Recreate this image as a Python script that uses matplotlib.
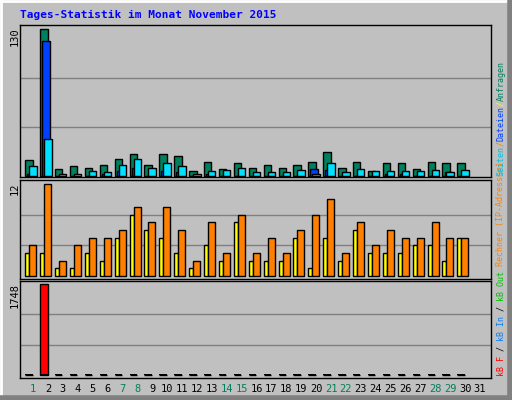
import numpy as np
import matplotlib; matplotlib.use('Agg')
import matplotlib.pyplot as plt
from matplotlib.lines import Line2D

days = np.arange(1, 32)
weekend = [1, 7, 8, 14, 15, 21, 22, 28, 29]

# top panel: Anfragen / Dateien / Seiten (day 1..30)
hits  = [14,130,6,9,7,10,15,19,10,19,18,4,12,6,11,7,10,7,10,12,21,7,12,4,11,11,6,12,11,11]
files = [2,119,0,0,0,2,4,7,0,4,3,0,2,0,0,0,0,0,0,6,5,0,0,0,2,2,0,0,3,0]
pages = [9,33,2,2,4,3,10,15,7,11,9,2,4,5,7,3,3,3,5,2,11,3,6,4,4,4,4,5,3,5]
# middle panel: Besuche (yellow) / Rechner (orange)
visits = [3,3,1,1,3,2,5,8,6,5,3,1,4,2,7,2,2,2,5,1,5,2,6,3,3,3,4,4,2,5]
sites  = [4,12,2,4,5,5,6,9,7,9,6,2,7,3,8,3,5,3,6,8,10,3,7,4,6,5,5,7,5,5]
# bottom panel: kB F (red), kB In (small dashes)
kbf  = [0,1748] + [0]*28
kbin = [15]*30

W, H = 512, 400
fig = plt.figure(figsize=(W/100, H/100), dpi=100, facecolor='#C0C0C0')
mono = 'DejaVu Sans Mono'

def ax_px(x0, y0, x1, y1):
    return fig.add_axes([x0/W, 1-y1/H, (x1-x0)/W, (y1-y0)/H])

def style(ax, ymax, lo, top):
    ax.set_facecolor('#C0C0C0')
    ax.set_xlim(0.13, 31.74)
    ax.set_ylim(lo, top)
    for f in (1/3, 2/3):
        ax.axhline(ymax*f, color='#808080', lw=1, zorder=0)
    ax.set_xticks([]); ax.set_yticks([])
    for s in ax.spines.values():
        s.set_color('black'); s.set_linewidth(1)

d = days[:30]
ek = dict(edgecolor='black', linewidth=1, align='edge')

ax1 = ax_px(20, 25, 491, 177)
style(ax1, 130, -1, 133.5)
ax1.bar(d-0.52, hits, 0.5, color='#00805C', **ek)
ax1.bar(d-0.38, files, 0.5, color='#0040FF', **ek)
ax1.bar(d-0.25, pages, 0.5, color='#00E0FF', **ek)

ax2 = ax_px(20, 180, 491, 279)
style(ax2, 12, -0.4, 12.5)
ax2.bar(d-0.52, visits, 0.27, color='#FFFF00', **ek)
ax2.bar(d-0.25, sites, 0.47, color='#FF8000', **ek)

ax3 = ax_px(20, 281, 491, 378)
style(ax3, 1748, -58, 1806)
ax3.bar(d-0.52, kbf, 0.5, color='#FF0000', **ek)
ax3.bar(d-0.52, kbin, 0.5, color='black', align='edge', linewidth=0)

# left max labels
for y, s in [(27, '130'), (182, '12'), (283, '1748')]:
    fig.text(15/W, 1-y/H, s, rotation=90, ha='center', va='top', fontsize=7.5, family=mono)

# day labels
for day in days:
    x = (33 + (day-1)*14.9)/W
    fig.text(x, 1-389/H, str(day), ha='center', va='center', fontsize=7.5, family=mono,
             color='#00805C' if day in weekend else 'black')

# right legend texts, chained upward
def rtext(ybot, parts, fs=6):
    y = ybot
    step = fs * 100 / 72 * 0.602
    for s, c in parts:
        fig.text(501/W, 1-y/H, s, rotation=90, ha='center', va='bottom', fontsize=fs,
                 family=mono, color=c)
        y -= len(s) * step

rtext(376, [('kB F', '#FF0000'), (' / ', 'black'), ('kB In', '#0080FF'), (' / ', 'black'),
            ('kB Out ', '#00C000'), ('Rechner (IP-Adressen)', '#FF8000')])
rtext(176, [('Seiten', '#00C0E0'), ('/', '#FF8000'), ('Dateien', '#0040FF'), ('/', '#FFFF00'),
            ('Anfragen', '#00805C')])

# title
fig.text(20/W, 1-15/H, 'Tages-Statistik im Monat November 2015', ha='left', va='center',
         fontsize=8, family=mono, weight='bold', color='#0000FF')

# 3d frame
fig.add_artist(Line2D([0, 1], [1-1/H]*2, color='white', lw=2))
fig.add_artist(Line2D([1/W]*2, [0, 1], color='white', lw=2))
fig.add_artist(Line2D([0, 1], [2/H]*2, color='#808080', lw=4))
fig.add_artist(Line2D([1-2/W]*2, [0, 1], color='#808080', lw=4))

fig.savefig('out.png', dpi=100, facecolor=fig.get_facecolor())
